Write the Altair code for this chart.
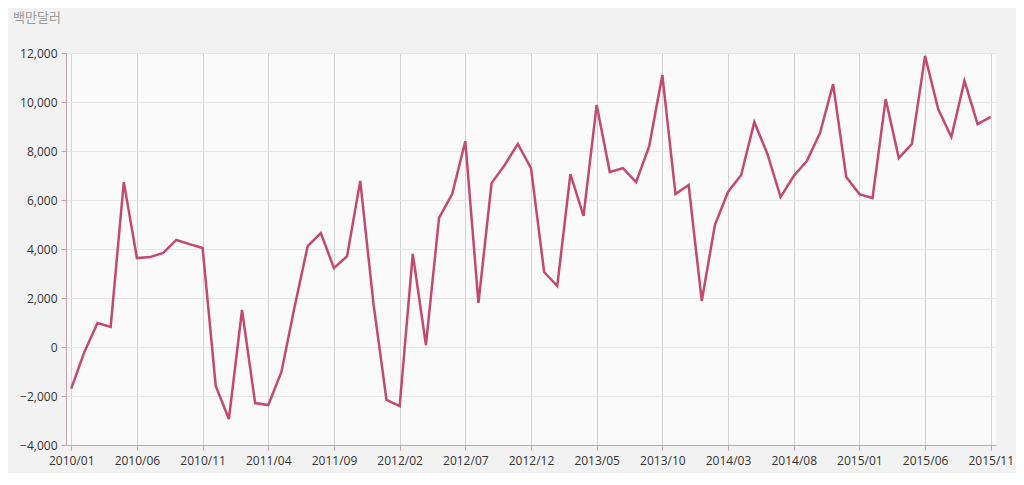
import altair as alt
import pandas as pd

months = [f"{y}/{m:02d}" for y in range(2010, 2016) for m in range(1, 13)][:71]
values = [-1700, -200, 980, 820, 6730, 3630, 3670, 3840, 4370, 4200,
          4040, -1590, -2940, 1510, -2290, -2370, -1020, 1630, 4120, 4650,
          3220, 3710, 6780, 1800, -2160, -2410, 3800, 80, 5270, 6240,
          8400, 1800, 6690, 7430, 8290, 7300, 3060, 2490, 7060, 5350,
          9880, 7140, 7300, 6730, 8200, 11100, 6240, 6610, 1880, 4980,
          6330, 7020, 9180, 7880, 6120, 6980, 7590, 8730, 10730, 6940,
          6240, 6080, 10120, 7710, 8290, 11880, 9710, 8570, 10860, 9100,
          9390]
tick_months = months[::5]
y_ticks = list(range(-4000, 12001, 2000))
unit_label = ["백만달러"]

df = pd.DataFrame({"month": months, "value": values})

line = alt.Chart(df).mark_line(color="#c24a6e", strokeWidth=2.5).encode(
    x=alt.X("month:O", sort=months,
            scale=alt.Scale(type="point", padding=0.4),
            axis=alt.Axis(values=tick_months, labelAngle=0, title=None,
                          grid=True, gridColor="#d3d3d3", gridWidth=1,
                          domainColor="#c9a1b0", tickColor="#c9a1b0",
                          tickSize=5, labelPadding=5, labelFontSize=12,
                          labelColor="#333333", labelFont="Open Sans")),
    y=alt.Y("value:Q", scale=alt.Scale(domain=[-4000, 12000], nice=False),
            axis=alt.Axis(values=y_ticks, format=",.0f", title=None,
                          grid=True, gridColor="#e6e6e6", gridWidth=1,
                          domainColor="#c9a1b0", tickColor="#c9a1b0",
                          tickSize=5, labelPadding=4, labelFontSize=12,
                          labelColor="#333333", labelFont="Open Sans")),
)

unit = alt.Chart(pd.DataFrame({"t": unit_label})).mark_text(
    align="left", baseline="middle", fontSize=13, color="#9a9a9a",
    font="Noto Sans CJK KR"
).encode(text="t:N", x=alt.value(-53), y=alt.value(-35))

chart = alt.layer(line, unit).properties(
    width=930, height=392,
    autosize=alt.AutoSizeParams(type="none"),
    padding={"left": 58, "top": 45, "right": 20, "bottom": 28},
    background="#f2f2f2",
).configure_view(fill="#fafafa", stroke=None)

chart.save("out.html", embed_options={"renderer": "svg", "actions": False})
